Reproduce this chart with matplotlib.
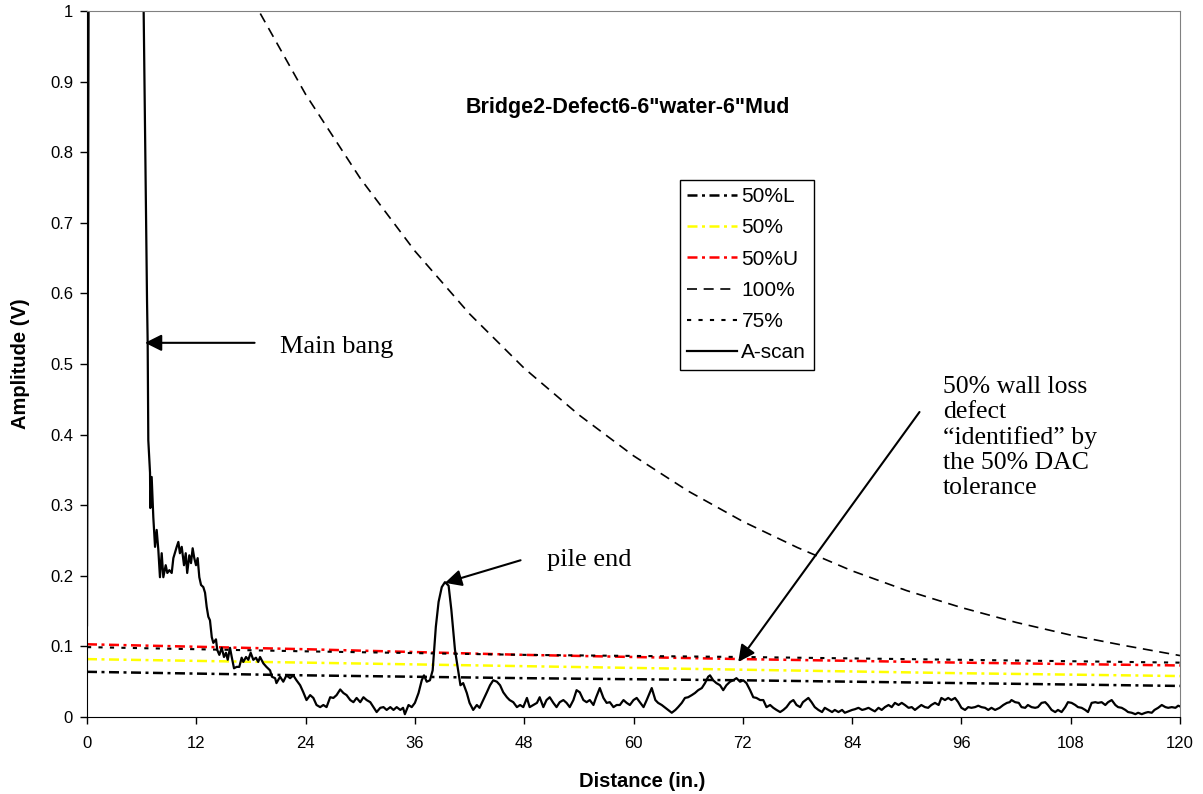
"""A-scan with DAC curves, Bridge2 defect6 (6in water, 6in mud)."""
import matplotlib
matplotlib.use('Agg')
import matplotlib.pyplot as plt
import numpy as np

# DAC reference curves, read at every 24 in.
dac_x = [0, 24, 48, 72, 96, 120]
dac_50L = [0.064, 0.059, 0.055, 0.052, 0.048, 0.044]
dac_50 = [0.082, 0.077, 0.072, 0.067, 0.062, 0.058]
dac_50U = [0.103, 0.096, 0.088, 0.082, 0.077, 0.073]
dac_75 = [0.099, 0.093, 0.088, 0.085, 0.081, 0.077]

# 100% curve (runs off the top before ~19 in.)
full_x = [12, 18, 24, 30, 36, 42, 48, 54, 60, 66, 72, 78, 84, 90, 96, 102, 108, 114, 120]
full_y = [1.18, 1.02, 0.882, 0.763, 0.660, 0.571, 0.494, 0.428, 0.370, 0.320, 0.277,
          0.240, 0.207, 0.179, 0.155, 0.134, 0.116, 0.101, 0.087]

# A-scan trace (distance in., amplitude V)
ascan = [
    (0, 0.13), (0.15, 0.9), (0.3, 1.6), (5.9, 1.6), (6.22, 1.0), (6.59, 0.59),
    (6.66, 0.531), (6.73, 0.392), (6.92, 0.346), (6.95, 0.296), (7.1, 0.340),
    (7.28, 0.283), (7.47, 0.241), (7.65, 0.265), (7.83, 0.237), (8.01, 0.198),
    (8.2, 0.232), (8.38, 0.198), (8.64, 0.215), (8.82, 0.204), (9.04, 0.208),
    (9.3, 0.204), (9.48, 0.225), (9.85, 0.241), (10.03, 0.248), (10.2, 0.232),
    (10.4, 0.241), (10.65, 0.215), (10.84, 0.232), (11.0, 0.204), (11.23, 0.229),
    (11.42, 0.218), (11.6, 0.239), (11.78, 0.225), (11.97, 0.215), (12.15, 0.225),
    (12.33, 0.198), (12.52, 0.187), (12.77, 0.184), (12.96, 0.176), (13.14, 0.156),
    (13.32, 0.142), (13.5, 0.137), (13.7, 0.113), (13.87, 0.105), (14.16, 0.110),
    (14.3, 0.095), (14.53, 0.088), (14.79, 0.098), (15.04, 0.085), (15.26, 0.091),
    (15.45, 0.081), (15.7, 0.098), (15.89, 0.085), (16.14, 0.069), (16.43, 0.071),
    (16.72, 0.071), (16.98, 0.084), (17.16, 0.078), (17.46, 0.085), (17.71, 0.081),
    (17.97, 0.091), (18.26, 0.081), (18.55, 0.084), (18.8, 0.078), (19.0, 0.085),
    (19.36, 0.076), (19.7, 0.071), (20.1, 0.066), (20.3, 0.057), (20.65, 0.055),
    (20.8, 0.048), (21.2, 0.057), (21.55, 0.050), (21.9, 0.059), (22.3, 0.055),
    (22.65, 0.059), (23.0, 0.052), (23.4, 0.045), (23.75, 0.035), (24.1, 0.024),
    (24.5, 0.031), (24.85, 0.027), (25.2, 0.017), (25.6, 0.014), (25.95, 0.017),
    (26.3, 0.014), (26.7, 0.028), (27.05, 0.027), (27.4, 0.031), (27.8, 0.039),
    (28.15, 0.034), (28.5, 0.031), (28.9, 0.024), (29.25, 0.021), (29.6, 0.027),
    (30.0, 0.021), (30.35, 0.028), (30.7, 0.024), (31.1, 0.021), (31.45, 0.014),
    (31.8, 0.007), (32.2, 0.013), (32.55, 0.014), (32.9, 0.010), (33.3, 0.014),
    (33.65, 0.010), (34.0, 0.014), (34.4, 0.010), (34.7, 0.013), (34.9, 0.004),
    (35.3, 0.017), (35.65, 0.014), (36.0, 0.020), (36.4, 0.034), (36.75, 0.052),
    (37.0, 0.059), (37.3, 0.050), (37.65, 0.052), (37.95, 0.066), (38.3, 0.128),
    (38.6, 0.163), (38.95, 0.184), (39.3, 0.191), (39.7, 0.186), (40.0, 0.152),
    (40.4, 0.095), (40.8, 0.062), (41.0, 0.045), (41.3, 0.048), (41.7, 0.034),
    (42.0, 0.020), (42.4, 0.010), (42.8, 0.017), (43.1, 0.013), (43.5, 0.024),
    (43.9, 0.035), (44.25, 0.045), (44.6, 0.052), (45.0, 0.050), (45.35, 0.045),
    (45.7, 0.035), (46.1, 0.028), (46.4, 0.024), (46.8, 0.021), (47.2, 0.014),
    (47.55, 0.017), (47.9, 0.014), (48.3, 0.027), (48.6, 0.014), (49.0, 0.017),
    (49.4, 0.020), (49.7, 0.028), (50.1, 0.014), (50.45, 0.024), (50.8, 0.028),
    (51.2, 0.020), (51.55, 0.014), (51.9, 0.021), (52.3, 0.024), (52.65, 0.020),
    (53.0, 0.014), (53.4, 0.024), (53.75, 0.038), (54.1, 0.035), (54.5, 0.024),
    (54.85, 0.021), (55.2, 0.024), (55.6, 0.017), (55.9, 0.028), (56.3, 0.041),
    (56.7, 0.027), (57.05, 0.020), (57.4, 0.021), (57.8, 0.014), (58.15, 0.017),
    (58.5, 0.017), (58.9, 0.024), (59.25, 0.020), (59.6, 0.017), (60.0, 0.024),
    (60.35, 0.027), (60.7, 0.021), (61.1, 0.014), (61.45, 0.024), (62.0, 0.041),
    (62.4, 0.024), (62.7, 0.020), (63.1, 0.017), (63.5, 0.013), (63.8, 0.010),
    (64.2, 0.006), (64.6, 0.010), (64.9, 0.014), (65.3, 0.020), (65.65, 0.027),
    (66.0, 0.028), (66.4, 0.031), (66.75, 0.034), (67.1, 0.038), (67.5, 0.041),
    (67.85, 0.048), (68.2, 0.057), (68.4, 0.059), (68.75, 0.052), (69.1, 0.048),
    (69.5, 0.045), (69.85, 0.038), (70.2, 0.045), (70.6, 0.050), (70.95, 0.052),
    (71.3, 0.055), (71.7, 0.050), (72.05, 0.052), (72.4, 0.048), (72.8, 0.038),
    (73.15, 0.028), (73.5, 0.027), (73.9, 0.024), (74.25, 0.024), (74.6, 0.014),
    (75.0, 0.017), (75.35, 0.013), (75.7, 0.010), (76.1, 0.007), (76.45, 0.010),
    (76.8, 0.014), (77.2, 0.021), (77.55, 0.024), (77.9, 0.017), (78.3, 0.014),
    (78.6, 0.021), (79.2, 0.027), (79.55, 0.021), (79.9, 0.014), (80.3, 0.010),
    (80.7, 0.007), (81.0, 0.013), (81.4, 0.010), (81.8, 0.007), (82.1, 0.010),
    (82.5, 0.007), (82.9, 0.010), (83.2, 0.006), (83.6, 0.008), (84.0, 0.010),
    (84.3, 0.011), (84.7, 0.013), (85.1, 0.010), (85.4, 0.011), (85.8, 0.013),
    (86.2, 0.010), (86.5, 0.008), (86.9, 0.013), (87.25, 0.010), (87.6, 0.014),
    (88.0, 0.017), (88.35, 0.014), (88.7, 0.020), (89.1, 0.017), (89.45, 0.020),
    (89.8, 0.017), (90.2, 0.013), (90.55, 0.014), (90.9, 0.010), (91.3, 0.014),
    (91.6, 0.017), (92.0, 0.014), (92.35, 0.013), (92.7, 0.017), (93.1, 0.020),
    (93.5, 0.017), (93.8, 0.027), (94.2, 0.024), (94.55, 0.027), (94.9, 0.024),
    (95.3, 0.027), (95.65, 0.021), (96.0, 0.013), (96.4, 0.010), (96.75, 0.014),
    (97.1, 0.013), (97.5, 0.014), (97.85, 0.016), (98.2, 0.014), (98.6, 0.013),
    (98.95, 0.010), (99.3, 0.013), (99.7, 0.010), (100.2, 0.013), (100.6, 0.017),
    (101.0, 0.020), (101.3, 0.021), (101.5, 0.024), (101.9, 0.021), (102.3, 0.020),
    (102.6, 0.014), (103.0, 0.013), (103.3, 0.017), (103.7, 0.014), (104.1, 0.013),
    (104.4, 0.014), (104.8, 0.020), (105.2, 0.021), (105.5, 0.017), (105.9, 0.010),
    (106.3, 0.007), (106.6, 0.010), (107.0, 0.007), (107.4, 0.014), (107.7, 0.021),
    (108.1, 0.020), (108.5, 0.017), (108.8, 0.014), (109.2, 0.013), (109.6, 0.010),
    (109.9, 0.007), (110.3, 0.020), (110.7, 0.021), (111.0, 0.020), (111.4, 0.021),
    (111.8, 0.017), (112.1, 0.021), (112.5, 0.024), (112.9, 0.017), (113.2, 0.014),
    (113.6, 0.013), (114.0, 0.010), (114.3, 0.007), (114.7, 0.006), (115.1, 0.004),
    (115.4, 0.006), (115.8, 0.004), (116.2, 0.006), (116.5, 0.007), (116.9, 0.006),
    (117.2, 0.010), (117.6, 0.013), (118.0, 0.017), (118.4, 0.014), (118.7, 0.013),
    (119.1, 0.014), (119.5, 0.013), (119.8, 0.016), (120.0, 0.015),
]
ascan_x = [p[0] for p in ascan]
ascan_y = [p[1] for p in ascan]

SANS = 'Liberation Sans'
SERIF = 'Liberation Serif'
plt.rcParams['font.family'] = SANS

fig = plt.figure(figsize=(12.03, 7.94), dpi=100)
ax = fig.add_axes([87 / 1203, 1 - 717 / 794, 1093 / 1203, 706 / 794])

dashdot = (0, (4, 1.8, 1.2, 1.8))
ax.plot(dac_x, dac_50L, color='black', lw=1.8, linestyle=dashdot, label='50%L')
ax.plot(dac_x, dac_50, color='#ffff00', lw=1.8, linestyle=dashdot, label='50%')
ax.plot(dac_x, dac_50U, color='#ff0000', lw=1.8, linestyle=dashdot, label='50%U')
ax.plot(full_x, full_y, color='black', lw=1.2, linestyle=(0, (6, 4)), label='100%')
ax.plot(dac_x, dac_75, color='black', lw=1.5, linestyle=(0, (2, 3.5)), label='75%')
ax.plot(ascan_x, ascan_y, color='black', lw=1.6, label='A-scan')

ax.set_xlim(0, 120)
ax.set_ylim(0, 1)
ax.set_xticks(np.arange(0, 121, 12))
ax.set_yticks(np.arange(0, 1.01, 0.1))
ax.set_yticklabels(['0', '0.1', '0.2', '0.3', '0.4', '0.5', '0.6', '0.7', '0.8', '0.9', '1'])
ax.tick_params(labelsize=12, length=5, width=1, pad=5)
ax.tick_params(axis='x', pad=8.5)
for s in ('top', 'right'):
    ax.spines[s].set_color('#808080')

ax.set_xlabel('Distance (in.)', fontsize=14.5, fontweight='bold')
ax.set_ylabel('Amplitude (V)', fontsize=14.5, fontweight='bold')
ax.xaxis.set_label_coords(0.508, -0.078)
ax.yaxis.set_label_coords(-0.052, 0.5)

ax.text(59.4, 0.864, 'Bridge2-Defect6-6"water-6"Mud', ha='center', va='center',
        fontsize=15.5, fontweight='bold')

leg = ax.legend(loc='upper left', bbox_to_anchor=(0.5425, 0.7606), borderaxespad=0,
                fancybox=False, edgecolor='black', framealpha=1, fontsize=15,
                handlelength=2.4, handletextpad=0.2, labelspacing=0.585, borderpad=0.35)
leg.get_frame().set_linewidth(1.0)

arrow = dict(arrowstyle='-|>', mutation_scale=25, color='black', lw=1.5, shrinkA=0, shrinkB=0)
ax.annotate('', xy=(6.37, 0.530), xytext=(18.4, 0.530), arrowprops=arrow)
ax.text(21.2, 0.524, 'Main bang', fontsize=19, family=SERIF, va='center')
ax.annotate('', xy=(39.3, 0.190), xytext=(47.6, 0.222), arrowprops=arrow)
ax.text(50.5, 0.222, 'pile end', fontsize=19, family=SERIF, va='center')
ax.annotate('', xy=(71.5, 0.078), xytext=(91.4, 0.432), arrowprops=arrow)
ax.text(94.0, 0.483, '50% wall loss\ndefect\n\u201cidentified\u201d by\nthe 50% DAC\ntolerance',
        fontsize=18.5, family=SERIF, va='top', ha='left', linespacing=1.17)

fig.savefig('out.png', dpi=100)
